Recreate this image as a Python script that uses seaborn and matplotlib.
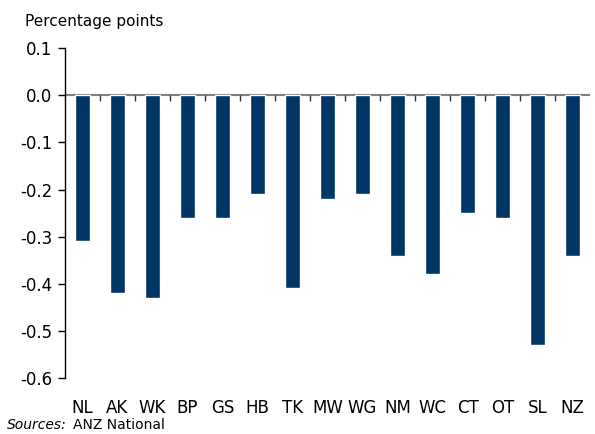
import matplotlib
matplotlib.use('Agg')
import matplotlib.pyplot as plt
import seaborn as sns
import pandas as pd

regions = ['NL', 'AK', 'WK', 'BP', 'GS', 'HB', 'TK', 'MW', 'WG', 'NM', 'WC', 'CT', 'OT', 'SL', 'NZ']
change = [-0.31, -0.42, -0.43, -0.26, -0.26, -0.21, -0.41, -0.22, -0.21, -0.34, -0.38, -0.25, -0.26, -0.53, -0.34]
y_ticks = [0.1, 0.0, -0.1, -0.2, -0.3, -0.4, -0.5, -0.6]

df = pd.DataFrame({'region': regions, 'change': change})

sns.set_theme(style='white')
plt.rcParams['font.family'] = ['DejaVu Sans']
plt.rcParams['text.color'] = 'black'
plt.rcParams['xtick.color'] = 'black'
plt.rcParams['ytick.color'] = 'black'

fig = plt.figure(figsize=(5.95, 4.34), dpi=100)
ax = fig.add_axes([0.109, 0.129, 0.883, 0.76])

sns.barplot(data=df, x='region', y='change', color='#003665', saturation=1,
            width=0.44, ax=ax)

ax.set_xlim(-0.5, len(regions) - 0.5)
ax.set_ylim(-0.6, 0.1)
ax.set_yticks(y_ticks)
ax.set_yticklabels([f'{v:.1f}' for v in y_ticks], fontsize=12)
ax.set_xlabel('')
ax.set_ylabel('')

# zero line with small ticks between categories
ax.axhline(0, color='#808080', lw=1.5, zorder=0)
ax.vlines([i + 0.5 for i in range(len(regions) - 1)], -0.012, 0,
          color='#333333', lw=1, zorder=0)

ax.tick_params(axis='x', length=0, pad=15, labelsize=12)
ax.tick_params(axis='y', left=True, direction='out', length=5, width=1, pad=4)
for side in ['top', 'right', 'bottom']:
    ax.spines[side].set_visible(False)
ax.spines['left'].set_color('black')
ax.spines['left'].set_linewidth(1)

fig.text(0.042, 0.95, 'Percentage points', fontsize=11, va='center', ha='left')
fig.text(0.012, 0.02, 'Sources:', fontsize=10, style='italic', va='center', ha='left')
fig.text(0.123, 0.02, 'ANZ National', fontsize=10, va='center', ha='left')

fig.savefig('out.png', dpi=100)
